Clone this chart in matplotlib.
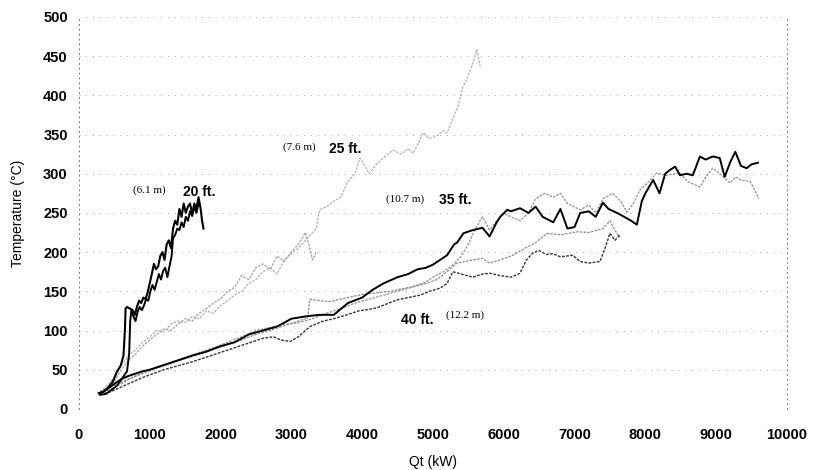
import matplotlib.pyplot as plt

# 20 ft (6.1 m) - two black runs
a_x = [280, 350, 420, 480, 540, 590, 630, 650, 660, 680, 720, 760, 790, 820, 850, 880, 910, 940, 970, 1000,
       1030, 1060, 1090, 1120, 1150, 1180, 1210, 1240, 1270, 1300, 1330, 1360, 1390, 1420, 1450, 1480, 1510,
       1540, 1570, 1600, 1630, 1660, 1690, 1720, 1740, 1760]
a_y = [20, 22, 28, 35, 48, 55, 68, 100, 128, 130, 128, 126, 120, 130, 138, 135, 142, 140, 148, 160,
       172, 185, 178, 182, 195, 200, 190, 210, 215, 205, 230, 240, 235, 255, 245, 262, 250,
       258, 262, 248, 262, 255, 270, 255, 240, 230]
b_x = [300, 380, 460, 540, 620, 680, 710, 725, 740, 770, 800, 830, 860, 890, 920, 950, 980, 1010, 1040, 1070,
       1100, 1130, 1160, 1190, 1220, 1250, 1280, 1310, 1330, 1360, 1390, 1420, 1450, 1480, 1510, 1540, 1570,
       1600, 1630, 1660, 1690]
b_y = [18, 19, 24, 30, 40, 48, 70, 112, 125, 118, 112, 124, 130, 126, 132, 140, 138, 150, 158, 152,
       162, 172, 165, 176, 180, 168, 182, 195, 218, 222, 230, 228, 238, 232, 245, 240, 252,
       246, 258, 250, 262]

# 25 ft (7.6 m) - two grey runs
c_x = [300, 400, 500, 600, 700, 800, 900, 1000, 1100, 1200, 1300, 1400, 1500, 1600, 1700, 1800, 1900, 2000,
       2100, 2200, 2300, 2400, 2500, 2600, 2700, 2800, 2900, 3000, 3100, 3200, 3300, 3350, 3400, 3500, 3600,
       3700, 3800, 3900, 3970, 4050, 4100, 4200, 4300, 4435, 4550, 4650, 4720, 4800, 4860, 4950, 5050, 5150,
       5200, 5280, 5350, 5420, 5500, 5560, 5620, 5670]
c_y = [22, 30, 40, 55, 68, 75, 85, 92, 100, 98, 108, 112, 110, 118, 115, 125, 122, 132,
       138, 145, 150, 160, 165, 175, 180, 172, 190, 198, 205, 215, 225, 230, 254, 258, 265,
       270, 290, 300, 320, 308, 300, 312, 320, 330, 325, 332, 326, 340, 352, 345, 348, 355,
       352, 370, 385, 410, 425, 440, 458, 436]
d_x = [300, 400, 500, 600, 700, 800, 900, 1000, 1100, 1200, 1300, 1400, 1500, 1600, 1700, 1800, 1900, 2000,
       2100, 2200, 2300, 2400, 2500, 2600, 2700, 2800, 2900, 3000, 3100, 3200, 3260, 3300, 3350]
d_y = [20, 26, 35, 50, 62, 70, 80, 88, 95, 102, 100, 108, 115, 112, 122, 128, 135, 140,
       150, 155, 170, 165, 180, 185, 178, 195, 188, 200, 210, 225, 205, 190, 200]

# 35 ft (10.7 m)
e_x = [300, 400, 500, 600, 700, 800, 900, 1000, 1200, 1400, 1600, 1800, 2000, 2200, 2400, 2600, 2800, 3000,
       3200, 3400, 3600, 3800, 4000, 4150, 4300, 4500, 4650, 4780, 4900, 5000, 5100, 5200, 5300, 5340, 5430,
       5560, 5700, 5800, 5900, 5950, 6050, 6100, 6230, 6350, 6450, 6550, 6700, 6800, 6900, 7000, 7080, 7200,
       7300, 7400, 7480, 7600, 7700, 7800, 7880, 7950, 8000, 8110, 8200, 8280, 8350, 8420, 8490, 8580, 8670,
       8770, 8850, 8950, 9050, 9120, 9200, 9270, 9350, 9430, 9500, 9590]
e_y = [20, 25, 32, 38, 42, 45, 48, 50, 56, 62, 68, 73, 80, 85, 95, 100, 105, 115,
       118, 120, 120, 135, 142, 152, 160, 168, 172, 178, 180, 184, 190, 196, 210, 212, 224,
       228, 231, 220, 238, 245, 254, 252, 256, 250, 258, 245, 238, 255, 230, 232, 250, 252,
       245, 263, 255, 250, 245, 240, 235, 265, 275, 292, 275, 300, 305, 309, 298, 300, 298,
       322, 318, 322, 320, 296, 315, 328, 310, 307, 312, 314]
f_x = [300, 500, 700, 900, 1100, 1300, 1500, 1700, 1900, 2100, 2300, 2500, 2700, 2900, 3100, 3300, 3500,
       3700, 3900, 4100, 4300, 4500, 4700, 4900, 5000, 5150, 5300, 5400, 5500, 5600, 5700, 5800, 5900, 6000,
       6100, 6230, 6350, 6450, 6580, 6700, 6800, 6900, 7080, 7200, 7300, 7400, 7540, 7650, 7740, 7830, 7920,
       8050, 8160, 8300, 8490, 8600, 8770, 8850, 8950, 9050, 9200, 9270, 9350, 9480, 9540, 9600]
f_y = [22, 30, 38, 45, 52, 58, 65, 72, 78, 85, 92, 100, 104, 108, 110, 115, 122,
       128, 135, 140, 145, 150, 155, 162, 168, 175, 185, 195, 210, 230, 245, 228, 240, 250,
       245, 240, 250, 268, 275, 270, 275, 262, 254, 260, 250, 268, 275, 265, 251, 262, 279,
       290, 301, 298, 301, 290, 283, 295, 307, 300, 288, 296, 292, 290, 280, 268]

# 40 ft (12.2 m)
g_x = [300, 450, 600, 750, 900, 1050, 1200, 1400, 1600, 1800, 2000, 2200, 2400, 2600, 2750, 2850, 2980,
       3100, 3263, 3450, 3600, 3785, 3950, 4100, 4209, 4350, 4491, 4650, 4816, 4950, 5099, 5200, 5282, 5400,
       5565, 5700, 5805, 5950, 6100, 6229, 6320, 6412, 6500, 6600, 6695, 6800, 6977, 7076, 7200, 7359, 7430,
       7500, 7570, 7641]
g_y = [18, 22, 28, 34, 40, 45, 50, 55, 60, 66, 72, 78, 84, 90, 92, 88, 86,
       92, 105, 112, 115, 120, 125, 127, 129, 134, 139, 142, 145, 150, 154, 160, 175, 172,
       168, 172, 173, 170, 168, 173, 190, 199, 202, 197, 198, 194, 196, 188, 186, 188, 205,
       224, 215, 222]
h_x = [300, 450, 600, 750, 900, 1100, 1300, 1500, 1700, 1900, 2100, 2300, 2500, 2700, 2900, 3100, 3230,
       3263, 3400, 3545, 3700, 3850, 4000, 4200, 4400, 4550, 4718, 4900, 5056, 5200, 5339, 5450, 5565, 5700,
       5800, 5950, 6130, 6300, 6450, 6610, 6800, 7040, 7200, 7400, 7500, 7570, 7641]
h_y = [20, 25, 32, 40, 46, 52, 58, 64, 70, 76, 82, 88, 95, 100, 106, 112, 116,
       140, 138, 137, 140, 143, 146, 148, 150, 153, 156, 160, 165, 175, 186, 188, 190, 192,
       186, 190, 196, 205, 212, 224, 222, 226, 225, 230, 240, 228, 219]

fig = plt.figure(figsize=(8.13, 4.70), dpi=100)
ax = fig.add_axes([0.097, 0.130, 0.871, 0.834])

dot = (0, (2, 1))
ax.plot(c_x, c_y, color='#b0b0b0', lw=0.9, ls=dot)
ax.plot(d_x, d_y, color='#a0a0a0', lw=0.9, ls=dot)
ax.plot(h_x, h_y, color='#8a8a8a', lw=0.9, ls=dot)
ax.plot(f_x, f_y, color='#909090', lw=0.9, ls=dot)
ax.plot(g_x, g_y, color='#333333', lw=1.0, ls=(0, (2, 1)))
ax.plot(e_x, e_y, color='black', lw=1.4)
ax.plot(b_x, b_y, color='black', lw=1.4)
ax.plot(a_x, a_y, color='black', lw=1.5)

ax.set_xlim(0, 10000)
ax.set_ylim(0, 500)
ax.set_xticks(range(0, 10001, 1000))
ax.set_yticks(range(0, 501, 50))
ax.tick_params(length=0, labelsize=10.5, pad=8)
for lab in ax.get_xticklabels() + ax.get_yticklabels():
    lab.set_fontweight('bold')
    lab.set_family('Liberation Sans')
ax.tick_params(axis='x', pad=14)

ax.grid(axis='y', color='#aaaaaa', lw=0.7, ls=(0, (1, 6)))
ax.set_axisbelow(True)
for s in ['top', 'bottom']:
    ax.spines[s].set_visible(False)
for s in ['left', 'right']:
    ax.spines[s].set_linestyle((0, (1, 4)))
    ax.spines[s].set_color('#777777')
    ax.spines[s].set_linewidth(0.7)

ax.set_xlabel('Qt (kW)', fontsize=10, family='Liberation Sans', labelpad=9)
ax.set_ylabel('Temperature (°C)', fontsize=10, family='Liberation Sans', labelpad=13)

serif = dict(family='Liberation Serif', fontsize=8, ha='center', va='center')
bold = dict(family='Liberation Sans', fontsize=10, fontweight='bold', ha='center', va='center')
ax.text(1000, 279, '(6.1 m)', **serif)
ax.text(1700, 277, '20 ft.', **bold)
ax.text(3120, 334, '(7.6 m)', **serif)
ax.text(3760, 332, '25 ft.', **bold)
ax.text(4610, 268, '(10.7 m)', **serif)
ax.text(5320, 266, '35 ft.', **bold)
ax.text(4780, 114, '40 ft.', **bold)
ax.text(5460, 119, '(12.2 m)', **serif)

fig.savefig('out.png', dpi=100)
